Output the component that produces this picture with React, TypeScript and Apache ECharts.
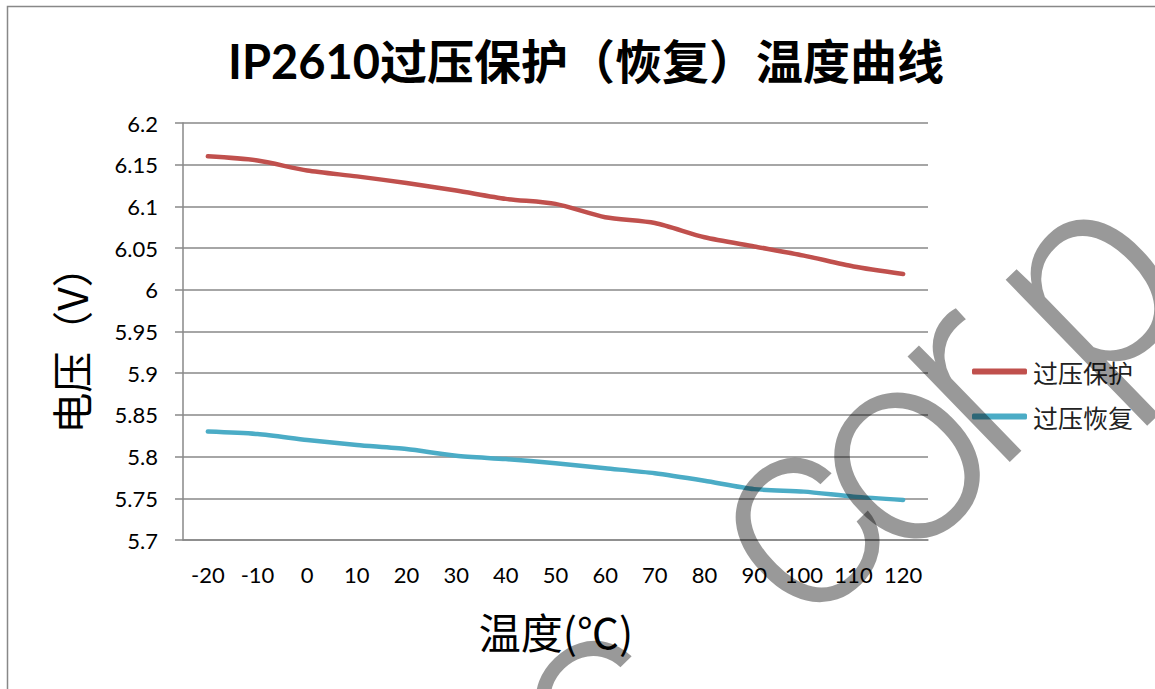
import React, { useEffect, useRef } from "react";
import * as echarts from "echarts";

const categories = ["-20", "-10", "0", "10", "20", "30", "40", "50", "60", "70", "80", "90", "100", "110", "120"];
const protectValues = [6.16, 6.155, 6.143, 6.136, 6.128, 6.119, 6.109, 6.103, 6.087, 6.08, 6.063, 6.052, 6.041, 6.028, 6.019];
const recoverValues = [5.83, 5.827, 5.82, 5.814, 5.809, 5.801, 5.797, 5.792, 5.786, 5.78, 5.771, 5.761, 5.758, 5.752, 5.748];
const seriesNames = ["过压保护", "过压恢复"];
const titleText = "IP2610过压保护（恢复）温度曲线";
const yName = "电压（V）";
const xName = "温度(℃)";
const watermarkLetters = ["c", "o", "r", "p", "c"];

export default function App() {
  const ref = useRef<HTMLDivElement>(null);
  useEffect(() => {
    if (!ref.current) return;
    const chart = echarts.init(ref.current, null, { renderer: "svg" });
    const labelFont = "Lato, 'Noto Sans', sans-serif";
    const cjk = "'Noto Sans CJK SC', sans-serif";
    const rot = 0.77;
    const wmPos = [
      [790, 517],
      [892, 450],
      [962, 376],
      [1082, 278],
      [590, 700],
    ];
    const wm = watermarkLetters.map((ch, i) => ({
      type: "text",
      x: wmPos[i][0],
      y: wmPos[i][1],
      rotation: rot,
      z: 100,
      silent: true,
      style: {
        text: ch,
        fontFamily: "Roboto, 'Liberation Sans', sans-serif",
        fontWeight: 300,
        fontSize: 278,
        fill: "rgba(0,0,0,0.4)",
        align: "center",
        verticalAlign: "middle",
      },
    }));
    chart.setOption({
      animation: false,
      backgroundColor: "#ffffff",
      title: {
        text: titleText,
        left: 581,
        top: 32,
        textAlign: "center",
        textStyle: {
          fontFamily: "Lato, 'Noto Sans CJK SC', sans-serif",
          fontWeight: "bold",
          fontSize: 47,
          color: "#000",
        },
      },
      grid: { left: 183, top: 123, right: 227, bottom: 149, containLabel: false },
      legend: {
        orient: "vertical",
        left: 967,
        top: 354,
        itemWidth: 55,
        itemHeight: 6,
        itemGap: 20,
        icon: "roundRect",
        data: seriesNames,
        textStyle: { fontFamily: cjk, fontSize: 25, color: "#222", padding: [0, 0, 0, 1] },
      },
      xAxis: {
        type: "category",
        data: categories,
        boundaryGap: true,
        axisLine: { lineStyle: { color: "#888", width: 1.5 } },
        axisTick: { show: false },
        axisLabel: { fontFamily: labelFont, fontSize: 22, color: "#000", margin: 23, interval: 0 },
        splitLine: { show: false },
      },
      yAxis: {
        type: "value",
        min: 5.7,
        max: 6.2,
        interval: 0.05,
        axisLine: { show: true, lineStyle: { color: "#888", width: 1.5 } },
        axisTick: { show: true, length: 8, lineStyle: { color: "#888", width: 1.5 } },
        axisLabel: {
          fontFamily: labelFont,
          fontSize: 22,
          color: "#000",
          margin: 25,
          formatter: (v: number) => String(parseFloat(v.toFixed(2))),
        },
        splitLine: { show: true, lineStyle: { color: "#888", width: 1.5 } },
      },
      series: [
        {
          name: seriesNames[0],
          type: "line",
          data: protectValues,
          smooth: 0.25,
          symbol: "none",
          color: "#C0504D",
          lineStyle: { width: 4.5, color: "#C0504D", cap: "round", join: "round" },
        },
        {
          name: seriesNames[1],
          type: "line",
          data: recoverValues,
          smooth: 0.25,
          symbol: "none",
          color: "#4BACC6",
          lineStyle: { width: 4.5, color: "#4BACC6", cap: "round", join: "round" },
        },
      ],
      graphic: [
        {
          type: "rect",
          shape: { x: 7.5, y: 6.5, width: 1300, height: 900 },
          style: { fill: "none", stroke: "#888", lineWidth: 1.5 },
          z: -10,
          silent: true,
        },
        {
          type: "text",
          x: 70,
          y: 340,
          rotation: Math.PI / 2,
          style: {
            text: yName,
            fontFamily: cjk,
            fontSize: 41,
            fill: "#000",
            align: "center",
            verticalAlign: "middle",
          },
        },
        {
          type: "text",
          x: 556,
          y: 630,
          style: {
            text: xName,
            fontFamily: cjk,
            fontSize: 42,
            fill: "#000",
            align: "center",
            verticalAlign: "middle",
          },
        },
        ...wm,
      ],
    });
    return () => chart.dispose();
  }, []);
  return (
    <div
      ref={ref}
      style={{ position: "fixed", left: 0, top: 0, width: 1155, height: 689, background: "#fff" }}
    />
  );
}
